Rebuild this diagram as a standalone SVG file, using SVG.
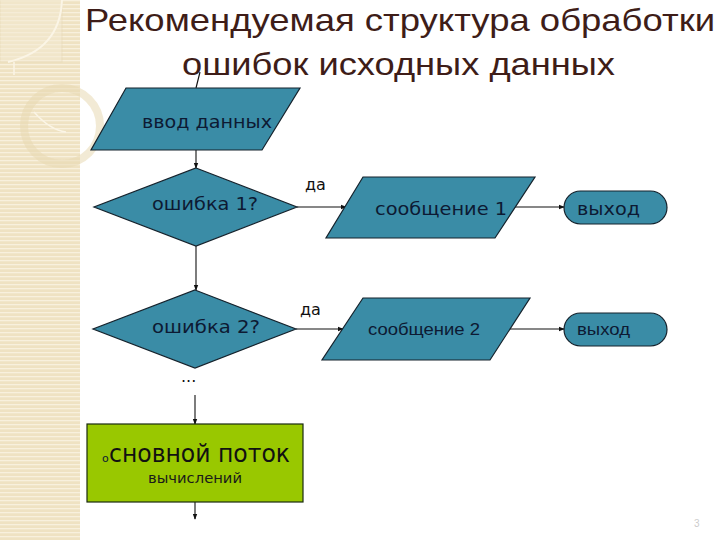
<svg xmlns="http://www.w3.org/2000/svg" width="720" height="540" viewBox="0 0 720 540">
<defs>
<pattern id="stripes" width="8" height="4" patternUnits="userSpaceOnUse">
<rect width="8" height="4" fill="#efe2c2"/>
<rect y="0" width="8" height="1.3" fill="#f8f0dd"/>
</pattern>
<marker id="arr" viewBox="0 0 8 8" refX="7" refY="4" markerWidth="6" markerHeight="6" orient="auto" markerUnits="userSpaceOnUse">
<path d="M0,1 L8,4 L0,7 z" fill="#111"/>
</marker>
<style>
.shape{fill:#3a8ca6;stroke:#15222c;stroke-width:1.2}
.green{fill:#99c800;stroke:#1a2a10;stroke-width:1.2}
.lbl{font-family:"DejaVu Sans",Verdana,sans-serif;fill:#0d1a33}
.lbl2{font-family:"Liberation Sans",Arial,sans-serif;fill:#0d1a33}
.da{font-family:"DejaVu Sans",Verdana,sans-serif;font-size:16px;fill:#111}
.title{font-family:"Liberation Sans","Open Sans",Arial,sans-serif;font-size:32px;fill:#3e1d18}
.conn{stroke:#111;stroke-width:1.1;fill:none}
</style>
</defs>
<rect width="720" height="540" fill="#ffffff"/>
<g id="sidebar">
<rect x="0" y="0" width="80" height="540" fill="url(#stripes)"/>
<rect x="0" y="0" width="62" height="62" fill="#f4ead3" opacity="0.5" stroke="#e6d7b3" stroke-width="1"/>
<path d="M62,0 Q60,50 8,62" fill="none" stroke="#fbf5e6" stroke-width="2"/>
<path d="M14,62 L14,75" stroke="#fbf5e6" stroke-width="1.5"/>
<circle cx="62" cy="126" r="38" fill="none" stroke="#e8d9b2" stroke-width="8" opacity="0.55"/>
<path d="M34,112 Q50,130 66,132" fill="none" stroke="#fbf5e6" stroke-width="1.5"/>
</g>
<g id="title">
<text class="title" x="85" y="31" textLength="630" lengthAdjust="spacingAndGlyphs">Рекомендуемая структура обработки</text>
<text class="title" x="182" y="75" textLength="433" lengthAdjust="spacingAndGlyphs">ошибок исходных данных</text>
</g>
<g id="connectors">
<path class="conn" d="M200,72 L196,88"/>
<path class="conn" d="M196,150 L196,168" marker-end="url(#arr)"/>
<path class="conn" d="M196,246 L196,290" marker-end="url(#arr)"/>
<path class="conn" d="M297,207 L346,207" marker-end="url(#arr)"/>
<path class="conn" d="M513,207 L564,207" marker-end="url(#arr)"/>
<path class="conn" d="M296,329 L343,329" marker-end="url(#arr)"/>
<path class="conn" d="M510,329 L564,329" marker-end="url(#arr)"/>
<path class="conn" d="M195,395 L195,424" marker-end="url(#arr)"/>
<path class="conn" d="M195,502 L195,519" marker-end="url(#arr)"/>
</g>
<g id="input">
<polygon class="shape" points="126,88 300,88 262,150 91,150"/>
<text class="lbl" x="142" y="128" font-size="18" textLength="130" lengthAdjust="spacingAndGlyphs">ввод данных</text>
</g>
<g id="error1">
<polygon class="shape" points="196,168 297,207 196,246 94,207"/>
<text class="lbl" x="152" y="210" font-size="18" textLength="106" lengthAdjust="spacingAndGlyphs">ошибка 1?</text>
</g>
<g id="yes1">
<text class="da" x="305" y="190">да</text>
</g>
<g id="msg1">
<polygon class="shape" points="363,177 535,177 495,238 326,238"/>
<text class="lbl" x="375" y="215" font-size="18" textLength="132" lengthAdjust="spacingAndGlyphs">сообщение 1</text>
</g>
<g id="exit1">
<rect class="shape" x="564" y="191" width="103" height="33" rx="16.5"/>
<text class="lbl" x="577" y="215" font-size="18" textLength="63" lengthAdjust="spacingAndGlyphs">выход</text>
</g>
<g id="error2">
<polygon class="shape" points="195,290 296,329 195,368 93,329"/>
<text class="lbl" x="152" y="333" font-size="18" textLength="108" lengthAdjust="spacingAndGlyphs">ошибка 2?</text>
</g>
<g id="yes2">
<text class="da" x="300" y="315">да</text>
</g>
<g id="msg2">
<polygon class="shape" points="363,298 530,298 490,360 322,360"/>
<text class="lbl2" x="368" y="335" font-size="16" textLength="112" lengthAdjust="spacingAndGlyphs">сообщение 2</text>
</g>
<g id="exit2">
<rect class="shape" x="564" y="313" width="103" height="33" rx="16.5"/>
<text class="lbl2" x="577" y="335" font-size="16" textLength="53" lengthAdjust="spacingAndGlyphs">выход</text>
</g>
<g id="ellipsis">
<text class="da" x="181" y="382" font-size="14">...</text>
</g>
<g id="main">
<rect class="green" x="87" y="424" width="216" height="78"/>
<text class="lbl" x="102" y="462" font-size="11" fill="#111">о</text>
<text class="lbl" x="109" y="462" font-size="24" textLength="181" lengthAdjust="spacingAndGlyphs" style="fill:#111">сновной поток</text>
<text class="lbl" x="148" y="483" font-size="14" textLength="94" lengthAdjust="spacingAndGlyphs" style="fill:#1a1a1a">вычислений</text>
</g>
<text x="694" y="527" font-family="Liberation Sans,Arial,sans-serif" font-size="10" fill="#cccccc">3</text>
</svg>
